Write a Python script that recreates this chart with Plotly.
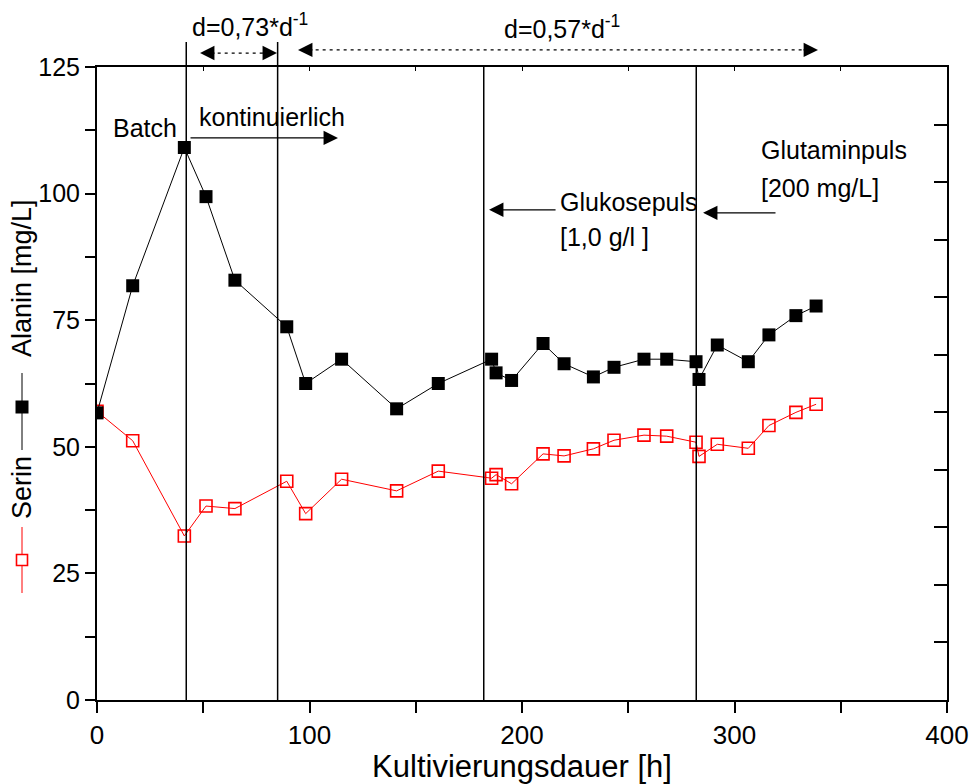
import plotly.graph_objects as go

# ---------------- data ----------------
zeit = [0, 16.8, 41.1, 51.3, 64.9, 89.3, 98.2, 115.1, 141.0, 160.6, 185.7, 187.8, 195.1,
        209.9, 219.8, 233.6, 243.3, 257.4, 268.1, 281.9, 283.3, 291.9, 306.5, 316.2, 328.9, 338.4]
alanin = [56.7, 81.8, 109.1, 99.4, 82.9, 73.7, 62.5, 67.3, 57.5, 62.5, 67.3, 64.6, 63.1,
          70.4, 66.4, 63.8, 65.7, 67.3, 67.3, 66.8, 63.3, 70.1, 66.8, 72.1, 75.9, 77.8]
serin = [57.0, 51.2, 32.4, 38.3, 37.8, 43.2, 36.8, 43.6, 41.3, 45.2, 43.8, 44.5, 42.7,
         48.6, 48.2, 49.6, 51.3, 52.3, 52.1, 50.9, 48.1, 50.5, 49.7, 54.2, 56.8, 58.4]

x_ticks = [0, 50, 100, 150, 200, 250, 300, 350, 400]
x_ticktext = ["0", "", "100", "", "200", "", "300", "", "400"]
y_ticks = [0, 12.5, 25, 37.5, 50, 62.5, 75, 87.5, 100, 112.5, 125]
y_ticktext = ["0", "", "25", "", "50", "", "75", "", "100", "", "125"]

events = [42, 85, 182, 282]          # vertical marker lines [h]
events_tall = [True, True, False, False]

XMAX, YMAX = 400, 125
FONT = "Liberation Sans, Arial, Helvetica, sans-serif"

fig = go.Figure()

fig.add_trace(go.Scatter(
    x=zeit, y=serin, mode="lines+markers", name="Serin",
    line=dict(color="red", width=1),
    marker=dict(symbol="square-open", size=12, color="red", line=dict(width=1.6, color="red")),
    showlegend=False, hoverinfo="x+y"))
fig.add_trace(go.Scatter(
    x=zeit, y=alanin, mode="lines+markers", name="Alanin",
    line=dict(color="black", width=1),
    marker=dict(symbol="square", size=13, color="black", line=dict(width=0)),
    showlegend=False, hoverinfo="x+y"))
# dummy trace for the frame axes (top / right)
fig.add_trace(go.Scatter(x=[None], y=[None], xaxis="x2", yaxis="y2",
                         showlegend=False, hoverinfo="skip"))

shapes = []
for ev, tall in zip(events, events_tall):
    shapes.append(dict(type="line", xref="x", yref="paper", x0=ev, x1=ev,
                       y0=0, y1=1.0395 if tall else 1.0,
                       line=dict(color="black", width=1.5)))

# dotted double arrows above the plot
dotted = [(48.5, 84.7, 1.022), (94.6, 339.3, 1.027)]
for xa, xb, yp in dotted:
    shapes.append(dict(type="line", xref="x", yref="paper", x0=xa + 5, x1=xb - 5,
                       y0=yp, y1=yp, line=dict(color="black", width=1.2, dash="3px,4px")))

# legend glyphs inside y-axis title
px = lambda p: (p - 97) / 850.0
py = lambda p: (700 - p) / 633.0
lx = px(22)
shapes.append(dict(type="line", xref="paper", yref="paper", x0=lx, x1=lx,
                   y0=py(450), y1=py(373), line=dict(color="black", width=1)))
shapes.append(dict(type="rect", xref="paper", yref="paper",
                   x0=px(22 - 6.5), x1=px(22 + 6.5), y0=py(407 + 6.5), y1=py(407 - 6.5),
                   fillcolor="black", line=dict(width=0)))
shapes.append(dict(type="line", xref="paper", yref="paper", x0=lx, x1=lx,
                   y0=py(593), y1=py(527), line=dict(color="red", width=1)))
shapes.append(dict(type="rect", xref="paper", yref="paper",
                   x0=px(22 - 5.5), x1=px(22 + 5.5), y0=py(560 + 5.5), y1=py(560 - 5.5),
                   fillcolor="white", line=dict(color="red", width=1.6)))

ann = []
tf = dict(family=FONT, size=25, color="black")
# texts
ann.append(dict(x=72, y=py(25), xref="x", yref="paper", text="d=0,73*d<sup>-1</sup>",
                showarrow=False, font=tf, xanchor="center", yanchor="middle"))
ann.append(dict(x=218.8, y=py(27), xref="x", yref="paper", text="d=0,57*d<sup>-1</sup>",
                showarrow=False, font=tf, xanchor="center", yanchor="middle"))
ann.append(dict(x=22.6, y=113, xref="x", yref="y", text="Batch", showarrow=False, font=tf))
ann.append(dict(x=82.2, y=115.1, xref="x", yref="y", text="kontinuierlich", showarrow=False, font=tf))
ann.append(dict(x=216.9, y=98.4, xref="x", yref="y", text="Glukosepuls", showarrow=False,
                xanchor="left", font=tf))
ann.append(dict(x=216.9, y=91.4, xref="x", yref="y", text="[1,0 g/l ]", showarrow=False,
                xanchor="left", font=tf))
ann.append(dict(x=311.5, y=108.6, xref="x", yref="y", text="Glutaminpuls", showarrow=False,
                xanchor="left", font=tf))
ann.append(dict(x=311.5, y=101.1, xref="x", yref="y", text="[200 mg/L]", showarrow=False,
                xanchor="left", font=tf))

# solid arrows
for tip, tail, yv in [(113.4, 43.3, 111.0), (184.5, 216.5, 96.8), (285.2, 320.0, 96.2)]:
    ann.append(dict(x=tip, y=yv, ax=tail, ay=yv, xref="x", yref="y", axref="x", ayref="y",
                    text="", showarrow=True, arrowhead=2, arrowsize=2.4, arrowwidth=1.2,
                    arrowcolor="black"))
# arrowheads of dotted arrows
for xa, xb, yp in dotted:
    ann.append(dict(x=xa, y=yp, xref="x", yref="paper", ax=16, ay=0, text="",
                    showarrow=True, arrowhead=2, arrowsize=2.4, arrowwidth=1.2, arrowcolor="black"))
    ann.append(dict(x=xb, y=yp, xref="x", yref="paper", ax=-16, ay=0, text="",
                    showarrow=True, arrowhead=2, arrowsize=2.4, arrowwidth=1.2, arrowcolor="black"))

# y axis title pieces
yt = dict(family=FONT, size=27, color="black")
ann.append(dict(x=lx, y=py(278), xref="paper", yref="paper", text="Alanin [mg/L]",
                textangle=-90, showarrow=False, font=yt, xanchor="center", yanchor="middle"))
ann.append(dict(x=lx, y=py(488), xref="paper", yref="paper", text="Serin",
                textangle=-90, showarrow=False, font=yt, xanchor="center", yanchor="middle"))

fig.update_layout(
    width=971, height=784,
    margin=dict(l=97, r=24, t=67, b=84),
    paper_bgcolor="white", plot_bgcolor="white",
    font=dict(family=FONT, color="black"),
    shapes=shapes, annotations=ann, showlegend=False,
    xaxis=dict(range=[0, XMAX], tickvals=x_ticks, ticktext=x_ticktext, automargin=False,
               ticks="outside", ticklen=11, tickwidth=1.5, tickcolor="black",
               showline=True, linewidth=2, linecolor="black", showgrid=False, zeroline=False,
               tickfont=dict(family=FONT, size=26),
               title=dict(text="Kultivierungsdauer [h]", font=dict(family=FONT, size=31), standoff=4)),
    yaxis=dict(range=[0, YMAX], tickvals=y_ticks, ticktext=y_ticktext, automargin=False,
               ticks="outside", ticklen=10, tickwidth=1.5, tickcolor="black",
               showline=True, linewidth=2, linecolor="black", showgrid=False, zeroline=False,
               tickfont=dict(family=FONT, size=25)),
    xaxis2=dict(overlaying="x", side="top", range=[0, XMAX], dtick=50, tick0=0, automargin=False,
                ticks="inside", ticklen=4, tickwidth=1, tickcolor="black",
                showticklabels=False, showline=True, linewidth=2, linecolor="black",
                showgrid=False, zeroline=False),
    yaxis2=dict(overlaying="y", side="right", range=[0, 11], dtick=1, tick0=0, automargin=False,
                ticks="inside", ticklen=13, tickwidth=1.5, tickcolor="black",
                showticklabels=False, showline=True, linewidth=2, linecolor="black",
                showgrid=False, zeroline=False),
)

fig.write_html("out.html")
